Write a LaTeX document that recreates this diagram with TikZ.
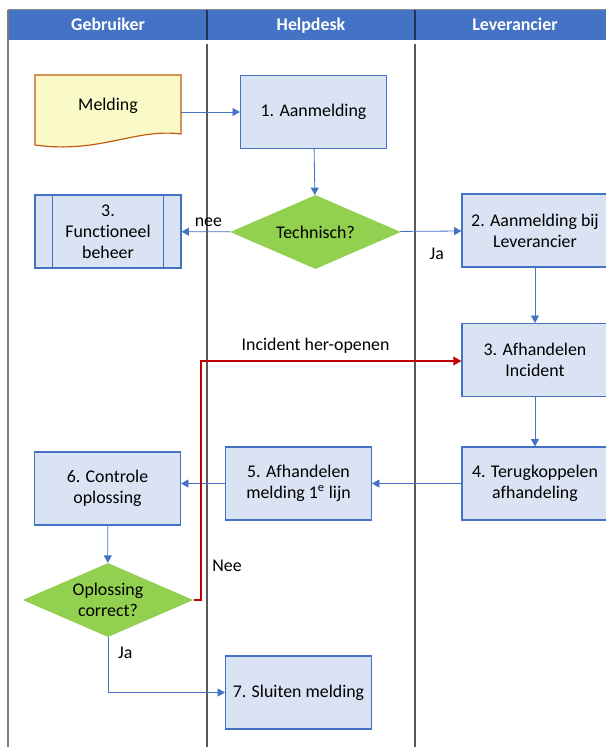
\documentclass[tikz,border=0pt]{standalone}
\usepackage{fontspec}
\setmainfont{Carlito}[Ligatures=NoCommon]
\usetikzlibrary{shapes.geometric,arrows.meta}

\definecolor{kopblauw}{HTML}{4472C4}
\definecolor{vakblauw}{HTML}{DAE3F3}
\definecolor{ruitgroen}{HTML}{92D050}
\definecolor{docgeel}{HTML}{FAFAC8}
\definecolor{docrand}{HTML}{C55A11}
\definecolor{baanlijn}{HTML}{595959}
\definecolor{kopscheiding}{HTML}{1F3050}
\definecolor{terugrood}{HTML}{C00000}

\begin{document}
\begin{tikzpicture}[x=0.75pt,y=-0.75pt,
                    every node/.style={font=\fontsize{13.4}{15.8}\selectfont, text=black},
                    kop/.style={text=white, font=\fontsize{13.4}{15.8}\selectfont\bfseries, text height=9.5pt, text depth=3pt},
                    stap/.style={draw=kopblauw, fill=vakblauw, align=center, rectangle, line width=0.9pt, minimum width=109.5pt, minimum height=54.75pt, inner sep=2pt},
                    keuze/.style={fill=ruitgroen, align=center, diamond, aspect=2.3, inner sep=0pt, minimum width=128pt, minimum height=55.5pt},
                    fleche/.style={color=kopblauw, line width=0.6pt, -{Triangle[width=6pt,length=5.5pt]}},
                    terug/.style={color=terugrood, line width=1.1pt, -{Triangle[width=6.5pt,length=6pt]}}]

	\useasboundingbox (0,0) rectangle (606,747);

	% banen
	\fill[kopblauw] (8,10) rectangle (620,40);
	\draw[baanlijn!70, line width=0.8pt] (8,9.5) -- (620,9.5);
	\draw[baanlijn!80, line width=1pt] (8,9.5) -- (8,747);
	\draw[kopscheiding, line width=1pt] (207,10) -- (207,40);
	\draw[kopscheiding, line width=1pt] (415,10) -- (415,40);
	\draw[baanlijn, line width=0.8pt] (207,44) -- (207,747);
	\draw[baanlijn, line width=0.8pt] (415,44) -- (415,747);

	\node[kop] (Gebruiker) at (108,26) {Gebruiker};
	\node[kop] (Helpdesk) at (311,26) {Helpdesk};
	\node[kop] (Leverancier) at (515,26) {Leverancier};

	% document
	\draw[draw=docrand, fill=docgeel, line width=0.9pt] (35,75) -- (181,75) -- (181,134)
		.. controls (135,128) and (100,154) .. (35,145) -- cycle;
	\node[minimum width=109.5pt, minimum height=54.75pt] (Melding) at (108,112) {\raisebox{4.5pt}[\height][\depth]{Melding}};

	\node[stap] (Aanmelding) at (313.5,112) {1. Aanmelding};

	\node[keuze] (Technisch) at (315.5,232) {Technisch?};

	\node[stap] (Functioneel) at (108,231.5) {3.\\Functioneel\\beheer};
	\draw[kopblauw, line width=0.9pt] ([xshift=13.5pt]Functioneel.north west) -- ([xshift=13.5pt]Functioneel.south west);
	\draw[kopblauw, line width=0.9pt] ([xshift=-13.5pt]Functioneel.north east) -- ([xshift=-13.5pt]Functioneel.south east);

	\node[stap] (AanmLev) at (535,230.5) {2. Aanmelding bij\\Leverancier};

	\node[stap] (AfhIncident) at (535,360) {3. Afhandelen\\Incident};

	\node[stap] (Terugkoppelen) at (535,483.5) {4. Terugkoppelen\\afhandeling};

	\node[stap] (AfhMelding) at (298.5,483.5) {5. Afhandelen\\melding 1\textsuperscript{e} lijn};

	\node[stap] (Controle) at (107.5,488.5) {6. Controle\\oplossing};

	\node[keuze] (Correct) at (108,600) {Oplossing\\correct?};

	\node[stap] (Sluiten) at (298.5,692.5) {7. Sluiten melding};

	\coordinate (Knik) at (201,361);


	\path[fleche] (Melding) edge (Aanmelding);

	\path[fleche] (Aanmelding) edge (Technisch);

	\path[fleche] (Technisch) edge node[above, pos=0.45] {nee} (Functioneel);

	\path[fleche] (Technisch) edge node[below, pos=0.6, yshift=-9pt] {Ja} (AanmLev);

	\path[fleche] (AanmLev) edge (AfhIncident);

	\path[fleche] (AfhIncident) edge (Terugkoppelen);

	\path[fleche] (Terugkoppelen) edge (AfhMelding);

	\draw[fleche] (AfhMelding.west) -- (AfhMelding.west -| Controle.east);

	\path[fleche] (Controle) edge (Correct);

	\draw[terug] (Correct.east) -| (Knik) -- node[above, pos=0.44, yshift=2pt] {Incident her-openen} (Knik -| AfhIncident.west);
	\node (Nee) at (227,566) {Nee};

	\draw[fleche] (Correct.south) |- node[pos=0.14, right, xshift=4pt] {Ja} (Sluiten.west);

\end{tikzpicture}
\end{document}
